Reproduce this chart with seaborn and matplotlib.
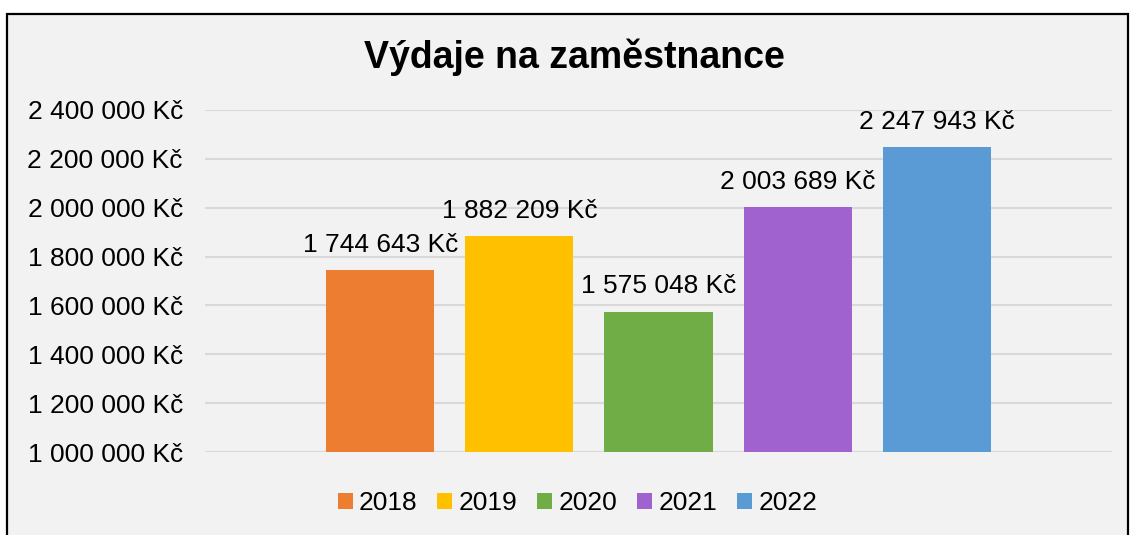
import matplotlib
matplotlib.use("Agg")
import matplotlib.pyplot as plt
from matplotlib.patches import Rectangle, Patch
import seaborn as sns
import pandas as pd

# data
years = ["2018", "2019", "2020", "2021", "2022"]
expenses = [1744643, 1882209, 1575048, 2003689, 2247943]
colors = ["#ED7D31", "#FFC000", "#70AD47", "#A062CF", "#5B9BD5"]
yticks = [1000000, 1200000, 1400000, 1600000, 1800000, 2000000, 2200000, 2400000]

def kc(v):
    return f"{v:,.0f}".replace(",", " ") + " Kč"

sns.set_style("white")
plt.rcParams["font.family"] = ["Liberation Sans", "DejaVu Sans"]
plt.rcParams["text.color"] = "black"
plt.rcParams["ytick.color"] = "black"

df = pd.DataFrame({"rok": years, "vydaje": expenses})

fig = plt.figure(figsize=(11.3, 5.35), dpi=100)
fig.patch.set_facecolor("white")

# chart frame
fig.patches.append(Rectangle((7 / 1130, -0.02), 1121 / 1130, 521 / 535 + 0.02,
                             transform=fig.transFigure, facecolor="#F2F2F2",
                             edgecolor="black", linewidth=1.6, zorder=-1))

ax = fig.add_axes([205 / 1130, 1 - 452 / 535, 907 / 1130, 342 / 535])
ax.set_facecolor("none")

sns.barplot(data=df, x="rok", y="vydaje", hue="rok", palette=colors,
            saturation=1, width=0.777, linewidth=0, edgecolor="none",
            legend=False, ax=ax, zorder=2)

ax.set_ylim(1000000, 2400000)
ax.set_xlim(2 - 3.2625, 2 + 3.2625)
ax.set_yticks(yticks)
ax.set_yticklabels([kc(v) for v in yticks], fontsize=19)
ax.tick_params(axis="y", length=0, pad=16)
ax.set_xticks([])
ax.set_xlabel("")
ax.set_ylabel("")
ax.grid(axis="y", color="#D9D9D9", linewidth=1.5, zorder=0)
ax.set_axisbelow(True)
for s in ax.spines.values():
    s.set_visible(False)

# data labels
for i, v in enumerate(expenses):
    ax.annotate(kc(v), (i, v), xytext=(0, 13), textcoords="offset points",
                ha="center", va="baseline", fontsize=19, clip_on=False)

fig.text(0.508, 1 - 57 / 535, "Výdaje na zaměstnance", ha="center", va="center",
         fontsize=27, fontweight="bold")

handles = [Patch(facecolor=c, edgecolor="none") for c in colors]
fig.legend(handles, years, loc="center", bbox_to_anchor=(0.511, 1 - 503 / 535),
           ncol=5, frameon=False, fontsize=19, handlelength=0.57,
           handleheight=0.57, handletextpad=0.23, columnspacing=0.76)

fig.savefig("out.png", dpi=100)
